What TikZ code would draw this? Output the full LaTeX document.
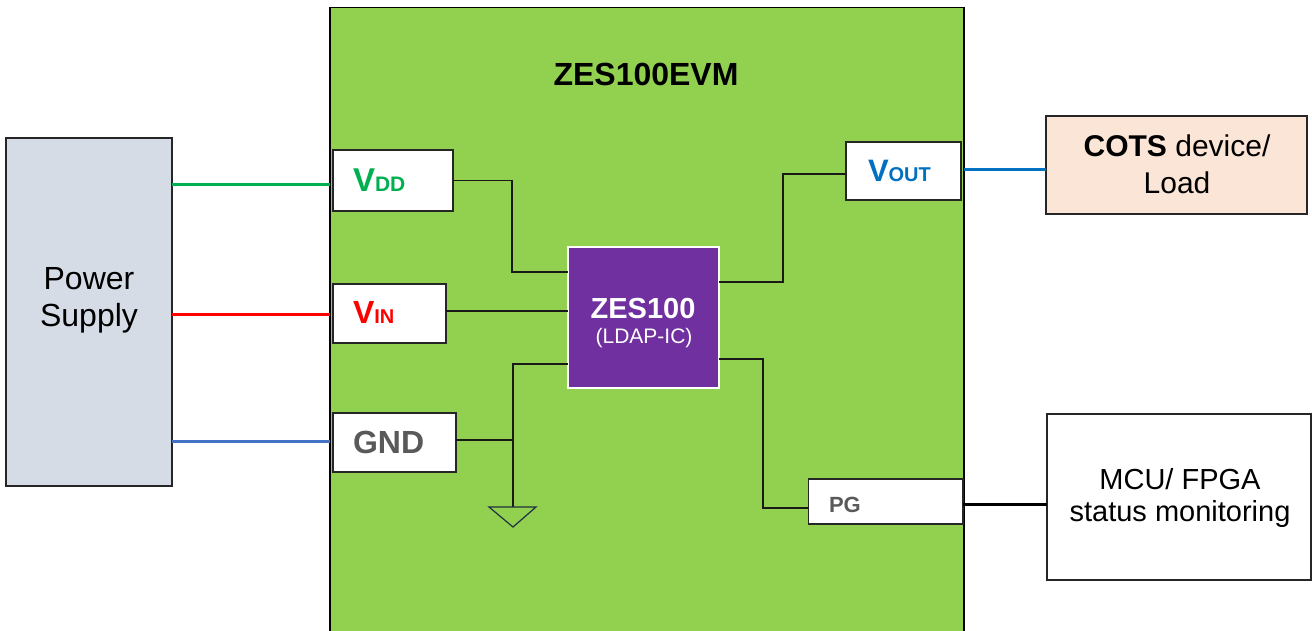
\documentclass[tikz,border=0pt]{standalone}
\usepackage{fontspec}
\setmainfont{Liberation Sans}
\definecolor{evmgreen}{HTML}{92D050}
\definecolor{psfill}{HTML}{D6DCE5}
\definecolor{cotsfill}{HTML}{FBE5D6}
\definecolor{zespurple}{HTML}{7030A0}
\definecolor{vddgreen}{HTML}{00B050}
\definecolor{vinred}{HTML}{FF0000}
\definecolor{voutblue}{HTML}{0070C0}
\definecolor{gndblue}{HTML}{4472C4}
\definecolor{gndgrey}{HTML}{595959}
\definecolor{boxline}{HTML}{262626}
\definecolor{gsymc}{HTML}{1F3040}
\newcommand{\myfs}[1]{\fontsize{#1}{#1}\selectfont}
\begin{document}
\begin{tikzpicture}[x=1pt,y=-1pt,
  box/.style={draw=boxline,line width=1.5pt,fill=white,anchor=north west,inner sep=0pt,outer sep=0pt},
  lbl/.style={inner sep=0pt,outer sep=0pt},
  wire/.style={draw=black!90,line width=1.3pt},
  pwr/.style={line width=3pt},
  gsym/.style={draw=gsymc,line width=1.2pt}]
\path[use as bounding box,clip] (0,0) rectangle (1312,630);
\fill[white] (0,0) rectangle (1312,630);
% main board
\node[draw=black,line width=1.5pt,fill=evmgreen,anchor=north west,inner sep=0pt,outer sep=0pt,
      minimum width=634pt,minimum height=640pt] (evm) at (330,7.5) {};
% boxes
\node[box,fill=psfill,minimum width=166pt,minimum height=348pt] (ps) at (6,138) {};
\node[box,minimum width=120pt,minimum height=61pt] (vdd) at (333,150) {};
\node[box,minimum width=113pt,minimum height=59pt] (vin) at (333,284) {};
\node[box,minimum width=123pt,minimum height=59pt] (gnd) at (333,413) {};
\node[draw=white,line width=1.5pt,fill=zespurple,anchor=north west,inner sep=0pt,outer sep=0pt,
      minimum width=151pt,minimum height=141pt] (zes) at (568,247) {};
\node[box,minimum width=115pt,minimum height=58pt] (vout) at (846,142) {};
\node[box,minimum width=154.5pt,minimum height=45pt] (pg) at (808.5,479) {};
\node[box,fill=cotsfill,minimum width=261pt,minimum height=98pt] (cots) at (1046,116) {};
\node[box,minimum width=264pt,minimum height=166pt] (mcu) at (1047,414) {};
% texts
\node[lbl,anchor=base] (title) at (646,85) {\myfs{32}\bfseries ZES100EVM};
\node[lbl,anchor=base] (ps1) at (89,289) {\myfs{32}Power};
\node[lbl,anchor=base] (ps2) at (89,326) {\myfs{32}Supply};
\node[lbl,anchor=base west,text=vddgreen] (vddt) at (353,191) {\bfseries\myfs{33}V\myfs{21}DD};
\node[lbl,anchor=base west,text=vinred] (vint) at (353,323) {\bfseries\myfs{32}V\myfs{20}IN};
\node[lbl,anchor=base west,text=gndgrey] (gndt) at (353,453) {\bfseries\myfs{32}GND};
\node[lbl,anchor=base west,text=voutblue] (voutt) at (868,181) {\bfseries\myfs{31}V\myfs{20}OUT};
\node[lbl,anchor=base west,text=gndgrey] (pgt) at (829,512) {\bfseries\myfs{22}PG};
\node[lbl,anchor=base,text=white] (zest) at (643,318) {\bfseries\myfs{29}ZES100};
\node[lbl,anchor=base,text=white] (ldap) at (644,343) {\myfs{21}(LDAP-IC)};
\node[lbl,anchor=base] (cots1) at (1177,156) {\myfs{30}\textbf{COTS} device/};
\node[lbl,anchor=base] (cots2) at (1177,193) {\myfs{30}Load};
\node[lbl,anchor=base] (mcu1) at (1180,489) {\myfs{29}MCU/ FPGA};
\node[lbl,anchor=base] (mcu2) at (1180,521) {\myfs{29}status monitoring};
% power supply connections
\draw[pwr,draw=vddgreen] (ps.east |- 0,184) -- (evm.west |- 0,184);
\draw[pwr,draw=vinred] (ps.east |- 0,314.5) -- (evm.west |- 0,314.5);
\draw[pwr,draw=gndblue] (ps.east |- 0,441) -- (evm.west |- 0,441);
% internal wiring
\draw[wire] (vdd.east) -- ++(59,0) |- (zes.west |- 0,272);
\draw[wire] (vin.east |- 0,311) -- (zes.west |- 0,311);
\coordinate (gtop) at (513,507);
\draw[wire] (zes.west |- 0,364) -| (gtop);
\draw[wire] (gnd.east |- 0,440) -- (gtop |- 0,440);
\draw[gsym,line join=miter] ([xshift=-24pt]gtop) -- ([xshift=23pt]gtop) -- ([yshift=-20pt]gtop) -- cycle;
\draw[wire] (zes.east |- 0,282) -- ++(64,0) |- (vout.west |- 0,174);
\draw[wire] (zes.east |- 0,359) -- ++(44,0) |- (pg.west |- 0,508);
% outputs
\draw[pwr,draw=voutblue] (evm.east |- 0,169) -- (cots.west |- 0,169);
\draw[line width=3pt,draw=black] (pg.east |- 0,504) -- (mcu.west |- 0,504);
\end{tikzpicture}
\end{document}
